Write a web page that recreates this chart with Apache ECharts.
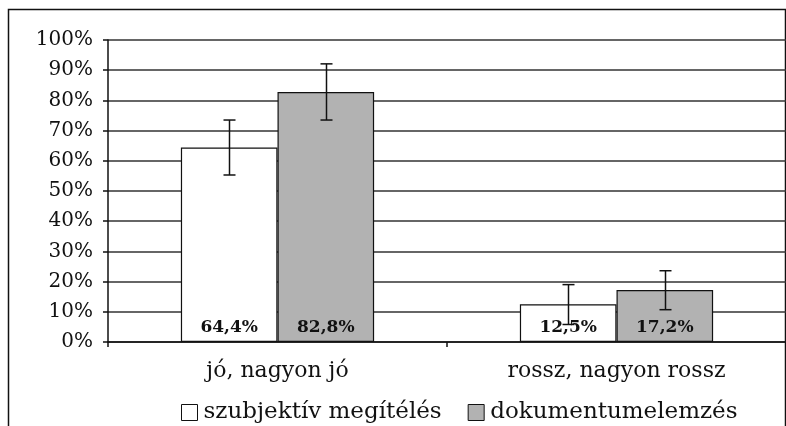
<!DOCTYPE html>
<html>
<head>
<meta charset="utf-8">
<script src="https://cdn.jsdelivr.net/npm/echarts@6/dist/echarts.min.js"></script>
<style>
  html, body { margin: 0; padding: 0; background: #fff; }
  #chart { width: 786px; height: 426px; }
</style>
</head>
<body>
<div id="chart"></div>
<script>
// adatok
const categories = ["jó, nagyon jó", "rossz, nagyon rossz"];
const seriesNames = ["szubjektív megítélés", "dokumentumelemzés"];
const subjValues = [64.4, 12.5];
const docValues = [82.8, 17.2];
// hibahatárok (alsó, felső)
const subjErrLow = [55.3, 5.8];
const subjErrHigh = [73.5, 19.0];
const docErrLow = [73.5, 10.7];
const docErrHigh = [92.1, 23.6];

const FONT = "DejaVu Serif";
const BAR_SHARE = 0.285; // egy oszlop szélessége a kategória arányában

const chart = echarts.init(document.getElementById("chart"));

const fmt = (v) => v.toFixed(1).replace(".", ",") + "%";

const errData = [];
categories.forEach((c, i) => {
  errData.push([i, subjErrLow[i], subjErrHigh[i], 0]);
  errData.push([i, docErrLow[i], docErrHigh[i], 1]);
});

const renderErr = function (params, api) {
  const idx = api.value(0);
  const s = api.value(3);
  const band = api.size([1, 0])[0];
  const off = (s === 0 ? -0.5 : 0.5) * band * BAR_SHARE;
  const lo = api.coord([idx, api.value(1)]);
  const hi = api.coord([idx, api.value(2)]);
  const x = Math.round(lo[0] + off) + 0.5;
  const cap = 6;
  const style = { stroke: "#111", lineWidth: 1.5 };
  return {
    type: "group",
    children: [
      { type: "line", shape: { x1: x, y1: lo[1], x2: x, y2: hi[1] }, style: style },
      { type: "line", shape: { x1: x - cap, y1: lo[1], x2: x + cap, y2: lo[1] }, style: style },
      { type: "line", shape: { x1: x - cap, y1: hi[1], x2: x + cap, y2: hi[1] }, style: style },
    ],
  };
};

const barLabel = {
  show: true,
  position: "insideBottom",
  distance: 6,
  fontFamily: FONT,
  fontWeight: "bold",
  fontSize: 17,
  color: "#111",
  formatter: (p) => fmt(p.value),
};

const option = {
  animation: false,
  backgroundColor: "#fff",
  textStyle: { fontFamily: FONT },
  graphic: [
    {
      type: "rect",
      shape: { x: 8.5, y: 9.5, width: 777, height: 440 },
      style: { fill: "none", stroke: "#111", lineWidth: 1.5 },
      z: 0,
    },
  ],
  grid: {
    left: 108,
    right: -2,
    top: 40,
    bottom: 84,
  },
  legend: {
    top: 396,
    left: 176,
    itemWidth: 16,
    itemHeight: 16,
    itemGap: 26,
    icon: "rect",
    textStyle: { fontFamily: FONT, fontSize: 23, color: "#111", padding: [0, 0, 0, 1] },
    data: [
      { name: seriesNames[0], itemStyle: { color: "#fff", borderColor: "#111", borderWidth: 1 } },
      { name: seriesNames[1], itemStyle: { color: "#b2b2b2", borderColor: "#111", borderWidth: 1 } },
    ],
  },
  xAxis: {
    type: "category",
    data: categories,
    axisLine: { lineStyle: { color: "#111", width: 1.5 } },
    axisTick: { show: true, length: 5, lineStyle: { color: "#111", width: 1.5 } },
    axisLabel: { fontFamily: FONT, fontSize: 22, color: "#111", margin: 18 },
  },
  yAxis: {
    type: "value",
    min: 0,
    max: 100,
    interval: 10,
    axisLine: { show: true, lineStyle: { color: "#111", width: 1.5 } },
    axisTick: { show: true, length: 5, lineStyle: { color: "#111", width: 1.5 } },
    splitLine: { lineStyle: { color: "#333", width: 1.5 } },
    axisLabel: {
      fontFamily: FONT,
      fontSize: 20,
      color: "#111",
      margin: 15,
      formatter: "{value}%",
    },
  },
  series: [
    {
      name: seriesNames[0],
      type: "bar",
      data: subjValues,
      barGap: "0%",
      barCategoryGap: ((1 - 2 * BAR_SHARE) * 100).toFixed(0) + "%",
      itemStyle: { color: "#fff", borderColor: "#111", borderWidth: 1.2 },
      label: barLabel,
    },
    {
      name: seriesNames[1],
      type: "bar",
      data: docValues,
      itemStyle: { color: "#b2b2b2", borderColor: "#111", borderWidth: 1.2 },
      label: barLabel,
    },
    {
      type: "custom",
      renderItem: renderErr,
      data: errData,
      encode: { x: 0, y: [1, 2] },
      z: 10,
      silent: true,
    },
  ],
};

chart.setOption(option);
</script>
</body>
</html>
